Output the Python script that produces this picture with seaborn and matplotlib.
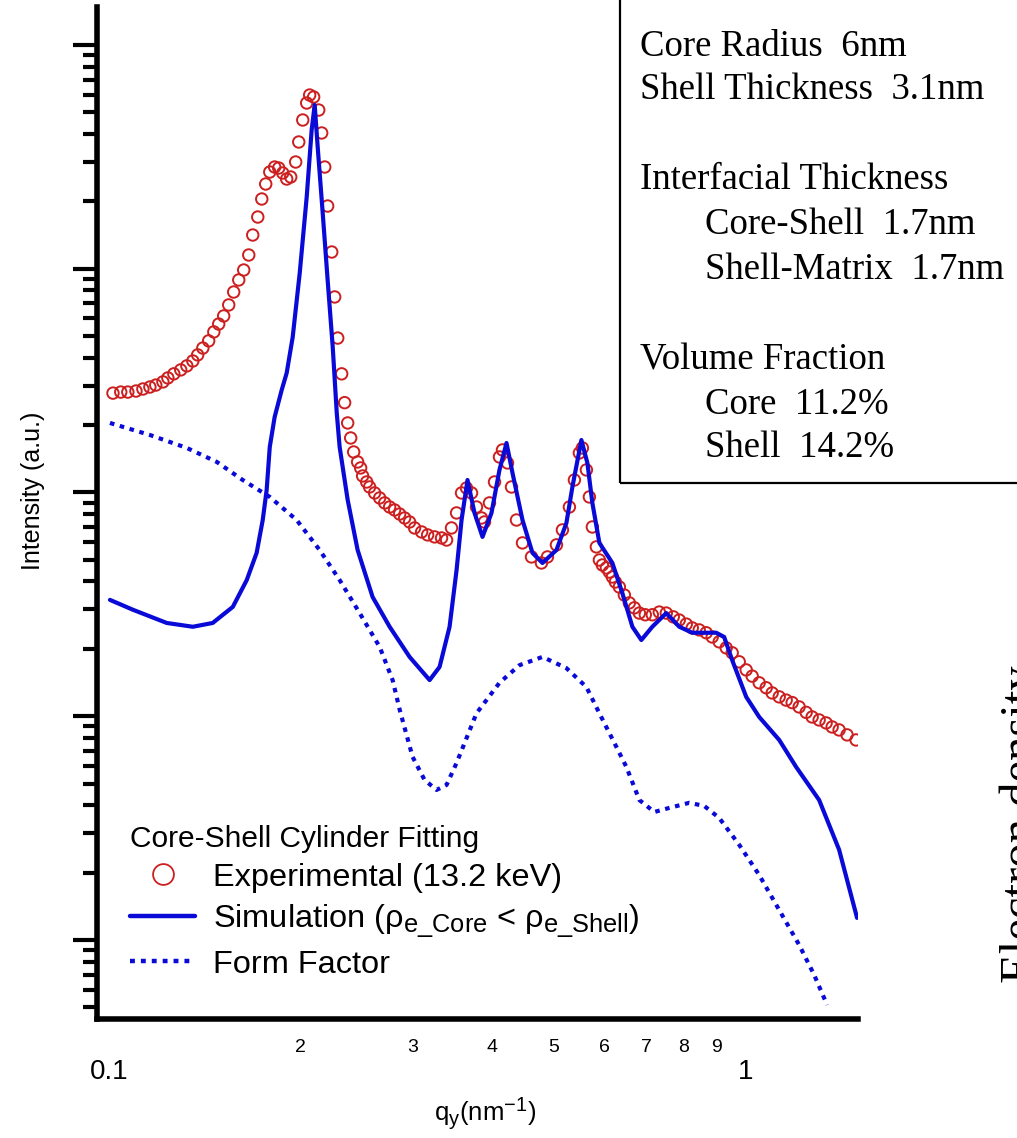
import numpy as np
import matplotlib
matplotlib.use("Agg")
import matplotlib.pyplot as plt
import matplotlib._mathtext as _mathtext
import seaborn as sns
from matplotlib.ticker import FixedLocator, FixedFormatter, NullFormatter, LogLocator
from matplotlib.patches import Rectangle
from matplotlib.lines import Line2D

# ---- measured scattering intensity (13.2 keV) ----
q_exp = [0.1015, 0.1044, 0.1071, 0.1103, 0.1131, 0.1160, 0.1185, 0.1216, 0.1238, 0.1265,
         0.1297, 0.1326, 0.1355, 0.1379, 0.1405, 0.1435, 0.1462, 0.1488, 0.1515, 0.1543,
         0.1571, 0.1600, 0.1629, 0.1659, 0.1683, 0.1714, 0.1739, 0.1764, 0.1790, 0.1822,
         0.1849, 0.1876, 0.1903, 0.1931, 0.1966, 0.1988, 0.2017, 0.2046, 0.2068, 0.2098,
         0.2137, 0.2160, 0.2184, 0.2207, 0.2240, 0.2264, 0.2289, 0.2322, 0.2347, 0.2373,
         0.2399, 0.2425, 0.2460, 0.2487, 0.2505, 0.2542, 0.2569, 0.2616, 0.2664, 0.2713,
         0.2762, 0.2812, 0.2864, 0.2916, 0.2969, 0.3023, 0.3101, 0.3169, 0.3250, 0.3333,
         0.3394, 0.3455, 0.3519, 0.3583, 0.3648, 0.3715, 0.3782, 0.3851, 0.3893, 0.3964,
         0.4037, 0.4110, 0.4155, 0.4231, 0.4293, 0.4371, 0.4467, 0.4615, 0.4784, 0.4889,
         0.5051, 0.5161, 0.5293, 0.5390, 0.5488, 0.5548, 0.5629, 0.5690, 0.5752, 0.5836,
         0.5900, 0.5964, 0.6051, 0.6117, 0.6184, 0.6251, 0.6342, 0.6458, 0.6575, 0.6696,
         0.6818, 0.6966, 0.7145, 0.7328, 0.7516, 0.7708, 0.7877, 0.8079, 0.8256, 0.8467,
         0.8684, 0.8875, 0.9101, 0.9335, 0.9540, 0.9786, 1.0036, 1.0256, 1.0519, 1.0788,
         1.1025, 1.1309, 1.1597, 1.1853, 1.2155, 1.2468, 1.2740, 1.3067, 1.3401, 1.3697,
         1.4046, 1.4456, 1.4935]
i_exp = [278, 281, 281, 284, 290, 296, 302, 312, 325, 339,
         353, 368, 387, 412, 442, 476, 522, 566, 615, 689,
         787, 891, 987, 1152, 1415, 1703, 2050, 2392, 2706, 2849,
         2820, 2679, 2518, 2571, 3000, 3686, 4622, 5506, 5977, 5856,
         5122, 4044, 2849, 1907, 1188, 748, 490, 339, 252, 204.5,
         175.2, 151.7, 136.9, 128.7, 118.5, 111.4, 105.8, 99.5, 94.5, 89.8,
         86.1, 83.5, 80.1, 76.9, 73.8, 69.4, 66.6, 64.6, 63.3, 62.6,
         61.3, 69.4, 81.0, 99.5, 104.7, 99.5, 86.1, 76.9, 73.8, 89.8,
         111.4, 144.1, 154.9, 135.5, 105.8, 75.3, 59.5, 51.5, 48.4, 51.5,
         58.3, 68.0, 86.1, 113.7, 150.2, 158.1, 126.1, 95.5, 70.1, 57.1,
         49.9, 47.4, 46.0, 44.1, 41.9, 39.8, 37.8, 34.8, 32.1, 30.5,
         28.9, 28.4, 28.4, 29.2, 28.9, 27.8, 26.9, 25.8, 24.8, 24.3,
         23.6, 22.6, 21.5, 20.2, 19.2, 17.5, 16.1, 15.1, 14.1, 13.4,
         12.7, 12.2, 11.8, 11.5, 11.0, 10.4, 9.92, 9.62, 9.33, 8.95,
         8.68, 8.25, 7.83]

# ---- core-shell cylinder simulation ----
q_sim = [0.1004, 0.1091, 0.1233, 0.1355, 0.1456, 0.1566, 0.1647, 0.1707, 0.1745, 0.1770,
         0.1790, 0.1822, 0.1869, 0.1903, 0.1945, 0.1995, 0.2046, 0.2083, 0.2106, 0.2129,
         0.2168, 0.2207, 0.2248, 0.2281, 0.2305, 0.2373, 0.2460, 0.2597, 0.2762, 0.2969,
         0.3192, 0.3309, 0.3431, 0.3519, 0.3583, 0.3661, 0.3755, 0.3865, 0.3993, 0.4110,
         0.4216, 0.4308, 0.4467, 0.4631, 0.4802, 0.5051, 0.5236, 0.5351, 0.5528, 0.5649,
         0.5752, 0.5900, 0.6184, 0.6411, 0.6648, 0.6867, 0.7145, 0.7516, 0.7877, 0.8256,
         0.9003, 0.9267, 0.9540, 1.0036, 1.0519, 1.1309, 1.2023, 1.3067, 1.4046, 1.4989]
i_sim = [33.1, 29.9, 26.1, 25.1, 26.1, 30.8, 40.6, 53.7, 75.3, 102.6,
         159.7, 217.5, 287.1, 342.0, 495.5, 957.3, 2093, 4170, 5393, 3500,
         1775, 890.8, 447.0, 226.6, 159.7, 92.6, 55.3, 34.1, 25.1, 18.4,
         14.5, 16.6, 25.1, 45.0, 75.3, 113.7, 81.0, 63.3, 81.0, 126.1,
         166.4, 122.3, 75.3, 53.7, 48.4, 55.3, 73.0, 105.8, 171.6, 135.5,
         89.8, 59.5, 48.4, 35.5, 25.1, 21.9, 25.1, 28.9, 25.1, 23.6,
         23.6, 22.6, 17.8, 12.2, 9.92, 7.83, 5.93, 4.22, 2.53, 1.254]

# ---- cylinder form factor ----
q_ff = [0.1004, 0.1160, 0.1326, 0.1478, 0.1623, 0.1790, 0.1973, 0.2144, 0.2305, 0.2478,
        0.2664, 0.2792, 0.2864, 0.3001, 0.3134, 0.3273, 0.3394, 0.3519, 0.3782, 0.4110,
        0.4418, 0.4802, 0.5236, 0.5629, 0.5900, 0.6274, 0.6505, 0.6818, 0.7197, 0.7597,
        0.8167, 0.8622, 0.9101, 0.9786, 1.0519, 1.1309, 1.2155, 1.2832, 1.3449]
i_ff = [204.5, 180.7, 158.1, 136.9, 113.7, 95.5, 75.3, 55.3, 40.6, 28.9,
        20.4, 14.5, 10.7, 6.58, 5.19, 4.68, 4.93, 6.18, 10.3, 14.1,
        16.9, 18.4, 16.4, 13.5, 10.3, 7.29, 5.93, 4.22, 3.73, 3.89,
        4.10, 3.97, 3.51, 2.66, 1.95, 1.36, 0.950, 0.698, 0.512]

legend_labels = ["Experimental (13.2 keV)",
                 "Simulation (ρ$_\\mathregular{e\\_Core}$ < ρ$_\\mathregular{e\\_Shell}$)",
                 "Form Factor"]
legend_title = "Core-Shell Cylinder Fitting"

param_lines = [("Core Radius  6nm", 0), ("Shell Thickness  3.1nm", 0),
               ("Interfacial Thickness", 0), ("Core-Shell  1.7nm", 1),
               ("Shell-Matrix  1.7nm", 1), ("Volume Fraction", 0),
               ("Core  11.2%", 1), ("Shell  14.2%", 1)]
param_rows = [47, 90, 180, 225, 270, 360, 405, 448]

x_major = [0.1, 1.0]
x_major_labels = ["0.1", "1"]
x_minor = [0.2, 0.3, 0.4, 0.5, 0.6, 0.7, 0.8, 0.9]
x_minor_labels = ["2", "3", "4", "5", "6", "7", "8", "9"]

RED = "#cc2020"
BLUE = "#0a0ad8"

# slightly larger sub/superscripts in math labels
_mathtext.SHRINK_FACTOR = 0.78

sns.set_theme(style="white")
plt.rcParams["font.family"] = ["Liberation Sans", "DejaVu Sans"]
plt.rcParams["text.color"] = "black"
plt.rcParams["axes.labelcolor"] = "black"
plt.rcParams["xtick.color"] = "black"
plt.rcParams["ytick.color"] = "black"
plt.rcParams["mathtext.fontset"] = "custom"
plt.rcParams["mathtext.rm"] = "Liberation Sans"
plt.rcParams["mathtext.it"] = "Liberation Sans:italic"
plt.rcParams["mathtext.bf"] = "Liberation Sans:bold"

W, H = 1017, 1138
fig = plt.figure(figsize=(W / 100, H / 100), dpi=100)
fig.patch.set_facecolor("white")
ax = fig.add_axes([97 / W, 1 - 1019 / H, (858 - 97) / W, (1019 - 7) / H])
ax.set_xscale("log")
ax.set_yscale("log")

sns.scatterplot(x=q_exp, y=i_exp, ax=ax, marker="o", s=68, facecolor="none",
                edgecolor=RED, linewidth=1.4, zorder=2)
sns.lineplot(x=q_sim, y=i_sim, ax=ax, color=BLUE, lw=3.0, estimator=None,
             sort=False, zorder=3)
sns.lineplot(x=q_ff, y=i_ff, ax=ax, color=BLUE, lw=3.0, estimator=None,
             sort=False, linestyle=(0, (1.1, 1.35)), zorder=3)

ax.set_xlim(0.0958, 1.504)
ax.set_ylim(0.443, 14790)

for side in ("top", "right"):
    ax.spines[side].set_visible(False)
for side in ("left", "bottom"):
    ax.spines[side].set_linewidth(4)
    ax.spines[side].set_color("black")

ax.xaxis.set_major_locator(FixedLocator(x_major))
ax.xaxis.set_major_formatter(FixedFormatter(x_major_labels))
ax.xaxis.set_minor_locator(FixedLocator(x_minor))
ax.xaxis.set_minor_formatter(FixedFormatter(x_minor_labels))
ax.yaxis.set_major_locator(LogLocator(base=10, numticks=20))
ax.yaxis.set_minor_locator(LogLocator(base=10, subs=np.arange(2, 10), numticks=100))
ax.yaxis.set_major_formatter(NullFormatter())
ax.yaxis.set_minor_formatter(NullFormatter())

ax.tick_params(axis="x", which="major", direction="out", length=17, width=3,
               pad=12, labelsize=20, color="black", labelcolor="black")
ax.tick_params(axis="x", which="minor", direction="out", length=9.5, width=3,
               pad=5, labelsize=14, color="black", labelcolor="black")
ax.tick_params(axis="y", which="major", direction="out", length=17, width=3,
               color="black", left=True)
ax.tick_params(axis="y", which="minor", direction="out", length=10, width=3,
               color="black", left=True)
ax.set_xlabel("")
ax.set_ylabel("")

fig.text(33 / W, 1 - 491 / H, "Intensity (a.u.)", rotation=90, fontsize=18,
         ha="center", va="center")
fig.text(485 / W, 1 - 1114 / H, "q$_\\mathregular{y}$(nm$^\\mathregular{-1}$)",
         fontsize=18.5, ha="center", va="center")

handles = [
    Line2D([], [], ls="none", marker="o", mfc="none", mec=RED, ms=15, mew=1.3),
    Line2D([], [], color=BLUE, lw=3.2),
    Line2D([], [], color=BLUE, lw=3.2, ls=(0, (1.1, 1.35))),
]
leg = ax.legend(handles, legend_labels, title=legend_title, loc="upper left",
                bbox_to_anchor=(130 / W, 1 - 825 / H), bbox_transform=fig.transFigure,
                frameon=False, fontsize=23.4, title_fontsize=21.5, handlelength=2.0,
                handletextpad=0.55, labelspacing=0.3, borderpad=0, borderaxespad=0,
                alignment="left")

# parameter box running off the top-right corner
fig.patches.append(Rectangle((620 / W, 1 - 483 / H), 0.6, 0.6, transform=fig.transFigure,
                             fill=False, edgecolor="black", linewidth=1.6))
for (txt, indent), row in zip(param_lines, param_rows):
    fig.text((640 + 65 * indent) / W, 1 - row / H, txt, family="Liberation Serif",
             fontsize=26.5, ha="left", va="center")

fig.text(1000 / W, 1 - 824 / H, "Electron density", family="Liberation Serif",
         fontsize=35, rotation=90, ha="left", va="center")

fig.savefig("out.png", dpi=100, facecolor="white")
